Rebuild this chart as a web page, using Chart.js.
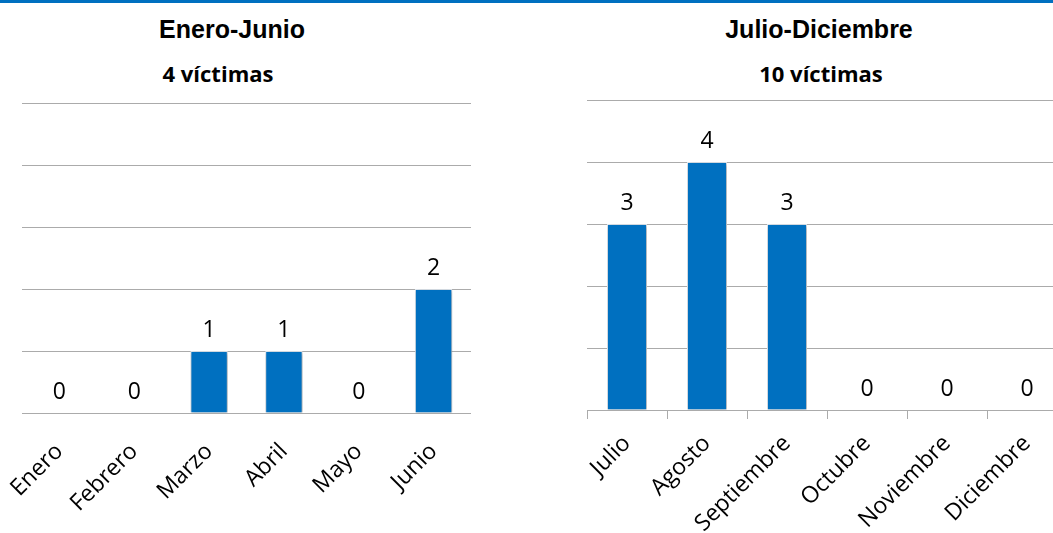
<!DOCTYPE html>
<html>
<head>
<meta charset="utf-8">
<script src="https://cdn.jsdelivr.net/npm/chart.js@4/dist/chart.umd.min.js"></script>
<style>
  body { margin: 0; width: 1053px; height: 533px; overflow: hidden; background: #fff; position: relative; }
  #topBar { position: absolute; left: 0; top: 0; width: 1053px; height: 3px; background: #0070C0; }
  .titulo { position: absolute; font-family: "Liberation Sans", Arial, sans-serif; font-weight: bold; font-size: 25px; color: #000; white-space: nowrap; transform: translate(-50%, -50%); }
  .subtitulo { position: absolute; font-family: "Open Sans", sans-serif; font-weight: bold; font-size: 22px; color: #000; white-space: nowrap; transform: translate(-50%, -50%); }
  #boxLeft { position: absolute; left: 0; top: 0; }
  #boxRight { position: absolute; left: 560px; top: 0; }
</style>
</head>
<body>
<div id="topBar"></div>
<div class="titulo" style="left:232px; top:29px">Enero-Junio</div>
<div class="subtitulo" style="left:218px; top:73px">4 víctimas</div>
<div class="titulo" style="left:819px; top:29px">Julio-Diciembre</div>
<div class="subtitulo" style="left:821px; top:73px">10 víctimas</div>
<div id="boxLeft"><canvas id="chartLeft" width="480" height="533"></canvas></div>
<div id="boxRight"><canvas id="chartRight" width="520" height="560"></canvas></div>
<script>
const mesesPrimer = ["Enero", "Febrero", "Marzo", "Abril", "Mayo", "Junio"]
const victimasPrimer = [0, 0, 1, 1, 0, 2]
const mesesSegundo = ["Julio", "Agosto", "Septiembre", "Octubre", "Noviembre", "Diciembre"]
const victimasSegundo = [3, 4, 3, 0, 0, 0]
const ejeY = [0, 1, 2, 3, 4, 5]

const azul = "#0070C0"
const gris = "#ABABAB"

// etiquetas encima de las barras
const etiquetas = {
    id: "etiquetas",
    beforeDatasetsDraw(chart) {
        chart.ctx.save()
        chart.ctx.shadowColor = "rgba(0,0,0,0.35)"
        chart.ctx.shadowBlur = 4
        chart.ctx.shadowOffsetX = 1
        chart.ctx.shadowOffsetY = 1
    },
    afterDatasetsDraw(chart) {
        let ctx = chart.ctx
        ctx.restore()
        ctx.save()
        ctx.font = "23px 'Open Sans'"
        ctx.fillStyle = "#000"
        ctx.textAlign = "center"
        ctx.textBaseline = "middle"
        let meta = chart.getDatasetMeta(0)
        meta.data.forEach((bar, i) => {
            ctx.fillText(String(chart.data.datasets[0].data[i]), bar.x, bar.y - 21)
        })
        ctx.restore()
    }
}

function makeChart(id, labels, values, pad, axisHeight, conTicks) {
    return new Chart(document.getElementById(id), {
        type: "bar",
        data: {
            labels: labels,
            datasets: [{
                data: values,
                backgroundColor: azul,
                borderColor: "#E4ECF4",
                borderWidth: 1,
                barPercentage: 0.5,
                categoryPercentage: 1
            }]
        },
        options: {
            responsive: false,
            animation: false,
            events: [],
            layout: { padding: pad },
            plugins: { legend: { display: false }, tooltip: { enabled: false } },
            scales: {
                y: {
                    min: ejeY[0],
                    max: ejeY[ejeY.length - 1],
                    ticks: { stepSize: 1, display: false },
                    grid: { color: gris, drawTicks: false },
                    border: { display: false },
                    afterFit: s => { s.width = 0 }
                },
                x: {
                    grid: { display: conTicks, drawOnChartArea: false, color: gris, tickLength: 9 },
                    border: { display: conTicks, color: gris },
                    ticks: {
                        color: "#000",
                        font: { family: "Open Sans", size: 23 },
                        maxRotation: 45,
                        minRotation: 45,
                        padding: conTicks ? 11 : 16
                    },
                    afterFit: s => {
                        s.height = axisHeight
                        s.paddingLeft = 0
                        s.paddingRight = 0
                    }
                }
            }
        },
        plugins: [etiquetas]
    })
}

makeChart("chartLeft", mesesPrimer, victimasPrimer, { top: 103, left: 22, right: 9, bottom: 0 }, 120, false)
makeChart("chartRight", mesesSegundo, victimasSegundo, { top: 100, left: 27, right: 13, bottom: 0 }, 150, true)
</script>
</body>
</html>
